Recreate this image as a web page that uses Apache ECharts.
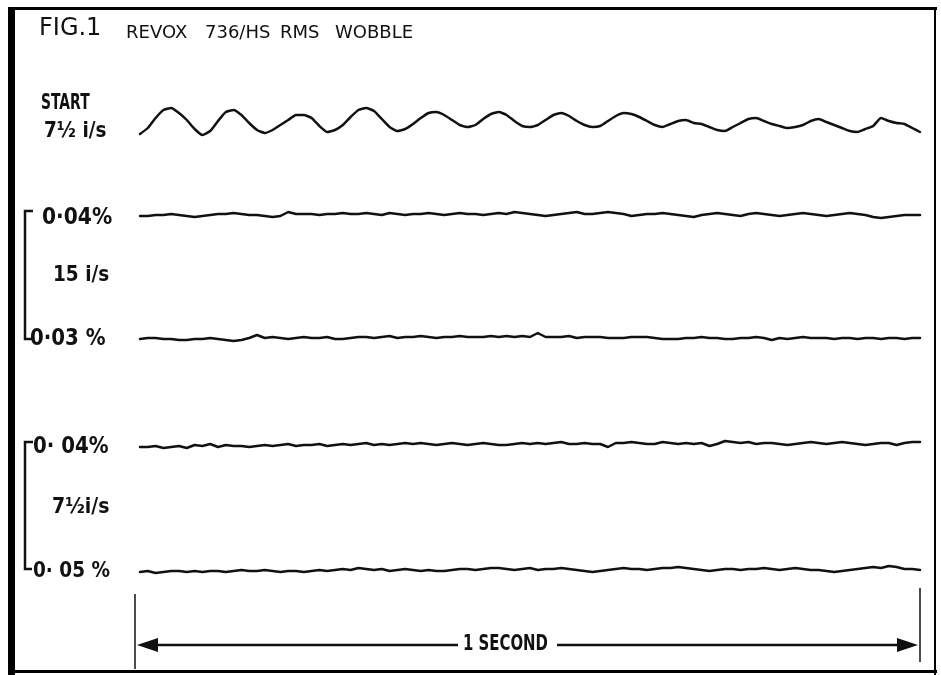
<!DOCTYPE html>
<html><head><meta charset="utf-8">
<script src="https://cdn.jsdelivr.net/npm/echarts@6/dist/echarts.min.js"></script>
<style>html,body{margin:0;padding:0;background:#fff}#c{width:941px;height:675px}</style>
</head><body><div id="c"></div>
<script>
// Wobble traces: deviation (arbitrary units, up = positive) sampled evenly across 1 second
const traceLabels = ['START 7½ i/s', '15 i/s 0·04%', '15 i/s 0·03%', '7½ i/s 0·04%', '7½ i/s 0·05%'];
const startTrace = [-12,-6,4,12,14,9,2,-7,-13,-9,1,10,12,7,-1,-8,-11,-8,-3,2,7,7,4,-4,-10,-8,-3,5,12,14,11,3,-5,-9,-7,-2,4,9,10,7,2,-3,-5,-3,3,8,10,7,1,-4,-5,-3,2,7,9,6,1,-3,-5,-4,1,6,9,8,5,1,-3,-5,-2,1,2,-1,-2,-5,-8,-9,-5,-1,3,4,1,-2,-4,-6,-5,-3,1,3,0,-3,-6,-9,-10,-7,-4,4,1,-1,-2,-6,-10];
const trace15a = [-1,-1,0,0,1,0,-1,-2,-1,0,1,1,2,1,0,0,-1,-2,-1,3,1,1,1,0,1,1,2,1,1,2,1,0,2,1,0,1,1,2,1,0,1,2,1,1,0,1,2,1,3,2,1,0,-1,0,1,2,3,1,1,2,3,2,1,-1,0,1,1,2,1,0,-1,-2,0,1,2,1,0,-1,1,2,1,0,-1,0,1,2,1,0,-1,0,1,2,1,0,-2,-3,-2,-1,0,0,0];
const trace15b = [-1,0,0,-1,-1,-2,-2,-1,-1,0,-1,-2,-3,-2,0,3,0,1,0,-1,0,1,0,0,1,-1,-1,0,1,1,0,1,2,0,1,1,2,1,0,1,1,2,1,1,1,2,1,2,1,2,1,5,1,1,1,2,0,1,1,1,0,0,0,1,1,1,0,-1,-1,-1,0,0,1,0,0,-1,-1,0,0,1,0,-2,0,-1,0,1,0,0,0,-1,0,0,-1,0,0,-1,0,0,-1,0,0];
const trace75a = [-2,-2,-1,-3,-2,-1,-3,0,-1,1,-2,0,-1,-1,-2,-1,0,-1,0,1,-1,0,0,1,-1,0,1,0,1,2,0,1,0,1,2,1,2,1,0,1,2,1,0,1,2,1,0,0,1,2,1,2,1,2,3,1,1,2,1,1,-2,2,2,3,2,1,1,3,2,1,2,1,2,-1,1,4,3,2,3,1,2,2,1,0,1,2,3,2,1,2,3,2,1,0,1,2,2,0,2,3,3];
const trace75b = [-2,-1,-3,-2,-1,-1,-2,-1,-2,-1,-1,-2,-1,0,-1,-1,0,-1,-2,-1,-1,-2,-1,0,-1,0,1,0,2,1,0,1,-1,0,1,0,-1,0,-1,-1,0,1,1,0,1,2,2,1,0,1,2,0,1,1,2,1,0,-1,-2,-1,0,1,2,1,1,0,1,2,2,3,2,1,0,-1,0,1,1,0,1,1,2,1,0,1,2,1,0,0,-1,-2,-1,0,1,2,3,2,4,3,1,1,0];
const traces = [startTrace, trace15a, trace15b, trace75a, trace75b];
const traceCenters = [122, 215, 338, 445, 570];
const titleWords = ['REVOX', '736/HS', 'RMS', 'WOBBLE'];

const chart = echarts.init(document.getElementById('c'), null, {renderer: 'canvas'});
const grids = [], xAxes = [], yAxes = [], series = [];
traces.forEach((arr, k) => {
  grids.push({left: 140, right: 21, top: traceCenters[k] - 20, height: 40});
  xAxes.push({type: 'value', gridIndex: k, min: 0, max: 1, show: false});
  yAxes.push({type: 'value', gridIndex: k, min: -20, max: 20, show: false});
  series.push({
    name: traceLabels[k], type: 'line', xAxisIndex: k, yAxisIndex: k,
    data: arr.map((v, i) => [i / (arr.length - 1), v]),
    showSymbol: false, smooth: k === 0 ? 0.15 : false, animation: false,
    lineStyle: {color: '#111', width: 2.5, join: 'round', cap: 'round'}
  });
});

const ff = '"DejaVu Sans", sans-serif';
const T = (x, y, text, size, weight, sx) => ({
  type: 'text', x: x, y: y, scaleX: sx || 1,
  style: {text: text, x: 0, y: 0, font: (weight || 'normal') + ' ' + size + 'px ' + ff, fill: '#111', verticalAlign: 'middle', textVerticalAlign: 'middle'}
});
const titleX = [126, 205, 280, 335];
const graphic = [
  {type: 'rect', shape: {x: 8, y: 7, width: 7, height: 668}, style: {fill: '#000'}},
  {type: 'rect', shape: {x: 8, y: 7, width: 929, height: 3}, style: {fill: '#000'}},
  {type: 'rect', shape: {x: 934, y: 7, width: 2, height: 668}, style: {fill: '#000'}},
  {type: 'rect', shape: {x: 8, y: 670, width: 929, height: 3}, style: {fill: '#000'}},
  T(39, 29, 'FIG.1', 24),
  ...titleWords.map((w, i) => T(titleX[i], 33, w, 18)),
  T(41, 104, 'START', 21, 'bold', 0.66),
  T(44, 132, '7½ i/s', 21, 'bold', 0.88),
  T(42, 218, '0·04%', 23, 'bold', 0.88),
  T(53, 276, '15 i/s', 21, 'bold', 0.88),
  T(30, 339, '0·03 %', 23, 'bold', 0.86),
  T(33, 447, '0· 04%', 23, 'bold', 0.86),
  T(52, 507, '7½i/s', 22, 'bold', 0.86),
  T(33, 572, '0· 05 %', 21, 'bold', 0.88),
  {type: 'polyline', shape: {points: [[33, 211], [25, 211], [25, 339], [32, 339]]}, style: {stroke: '#111', lineWidth: 2.5, fill: null}},
  {type: 'polyline', shape: {points: [[33, 442], [25, 442], [25, 569], [32, 569]]}, style: {stroke: '#111', lineWidth: 2.5, fill: null}},
  {type: 'line', shape: {x1: 135, y1: 594, x2: 135, y2: 669}, style: {stroke: '#111', lineWidth: 1.5}},
  {type: 'line', shape: {x1: 920, y1: 588, x2: 920, y2: 662}, style: {stroke: '#111', lineWidth: 1.5}},
  {type: 'line', shape: {x1: 150, y1: 645, x2: 458, y2: 645}, style: {stroke: '#111', lineWidth: 2.5}},
  {type: 'line', shape: {x1: 557, y1: 645, x2: 905, y2: 645}, style: {stroke: '#111', lineWidth: 2.5}},
  {type: 'polygon', shape: {points: [[137, 645], [158, 638], [158, 652]]}, style: {fill: '#111'}},
  {type: 'polygon', shape: {points: [[918, 645], [897, 638], [897, 652]]}, style: {fill: '#111'}},
  T(463, 645, '1 SECOND', 21, 'bold', 0.71)
];

chart.setOption({
  backgroundColor: '#fff',
  animation: false,
  grid: grids, xAxis: xAxes, yAxis: yAxes, series: series,
  graphic: graphic
});
</script></body></html>
